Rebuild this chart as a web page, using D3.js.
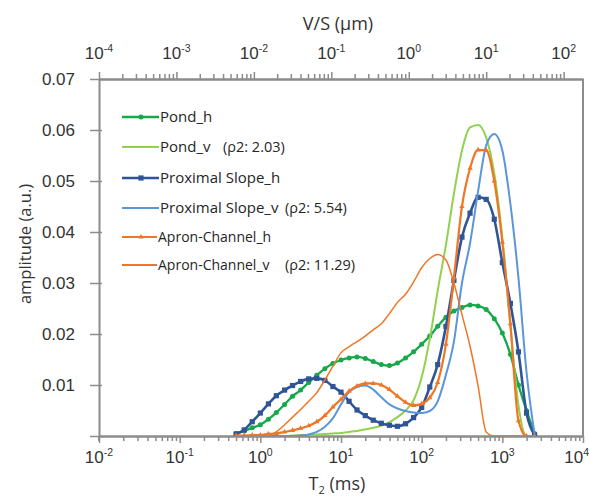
<!DOCTYPE html>
<html lang="en">
<head>
<meta charset="UTF-8">
<title>T2 distributions</title>
<script src="https://cdn.jsdelivr.net/npm/d3@7"></script>
<style>
  body { margin: 0; background: #fff; }
  svg { display: block; }
  .num { font-family: "Liberation Sans", Arial, sans-serif; fill: #333; }
  .ttl { font-family: "Open Sans", sans-serif; fill: #333; }
  .leg { font-family: "Open Sans", sans-serif; fill: #262626; }
</style>
</head>
<body>
<div id="chart"></div>
<script>
// T2 grid (ms), 10 points per decade
const T2_MS = [0.501, 0.631, 0.794, 1, 1.26, 1.58, 2, 2.51, 3.16, 3.98,
  5.01, 6.31, 7.94, 10, 12.6, 15.8, 20, 25.1, 31.6, 39.8,
  50.1, 63.1, 79.4, 100, 126, 158, 200, 251, 316, 398,
  501, 631, 794, 1000, 1259, 1585, 1995, 2512];

const POND_H = [0.0005, 0.0010, 0.0016, 0.0022, 0.0033, 0.0046, 0.0062, 0.0078, 0.0090, 0.0105,
  0.0119, 0.0132, 0.0142, 0.0149, 0.0153, 0.0155, 0.0152, 0.0146, 0.0140, 0.0138,
  0.0143, 0.0153, 0.0165, 0.0180, 0.0196, 0.0215, 0.0233, 0.0245, 0.0252, 0.0257,
  0.0255, 0.0248, 0.0230, 0.0202, 0.0160, 0.0100, 0.0050, 0.0005];

const POND_V = [0, 0, 0, 0, 0, 0, 0, 0.0001, 0.0002, 0.0002,
  0.0003, 0.0004, 0.0005, 0.0006, 0.0008, 0.0010, 0.0013, 0.0016, 0.0020, 0.0027,
  0.0037, 0.0050, 0.0070, 0.0115, 0.0190, 0.0285, 0.0375, 0.0475, 0.0560, 0.0605,
  0.0610, 0.0585, 0.0515, 0.0390, 0.0215, 0.0060, 0, 0];

const PROX_H = [0.0004, 0.0012, 0.0028, 0.0045, 0.0063, 0.0079, 0.0090, 0.0099, 0.0107, 0.0112,
  0.0113, 0.0109, 0.0097, 0.0086, 0.0068, 0.0051, 0.0040, 0.0031, 0.0025, 0.0021,
  0.0019, 0.0024, 0.0036, 0.0056, 0.0096, 0.0140, 0.0215, 0.0305, 0.0390, 0.0437,
  0.0468, 0.0464, 0.0425, 0.0340, 0.0260, 0.0165, 0.0045, 0.0002];

const PROX_V = [0, 0, 0, 0, 0, 0, 0, 0, 0.0001, 0.0003,
  0.0008, 0.0018, 0.0035, 0.0062, 0.0086, 0.0096, 0.0099, 0.0091, 0.0076, 0.0062,
  0.0054, 0.0049, 0.0046, 0.0045, 0.0049, 0.0068, 0.0120, 0.0185, 0.0300, 0.0378,
  0.0480, 0.0570, 0.0592, 0.0560, 0.0455, 0.0310, 0.0125, 0.0003];

const APRON_H = [0.0001, 0.0001, 0.0002, 0.0002, 0.0004, 0.0005, 0.0008, 0.0011, 0.0015, 0.0020,
  0.0028, 0.0040, 0.0057, 0.0072, 0.0088, 0.0098, 0.0103, 0.0103, 0.0100, 0.0091,
  0.0078, 0.0066, 0.0060, 0.0063, 0.0075, 0.0105, 0.0180, 0.0310, 0.0450, 0.0525,
  0.0561, 0.0560, 0.0500, 0.0380, 0.0220, 0.0030, 0, 0];

const APRON_V = [0, 0, 0, 0, 0.0001, 0.0008, 0.0022, 0.0037, 0.0052, 0.0068,
  0.0085, 0.0110, 0.0137, 0.0163, 0.0175, 0.0185, 0.0196, 0.0208, 0.0220, 0.0240,
  0.0262, 0.0278, 0.0302, 0.0330, 0.0348, 0.0356, 0.0345, 0.0300, 0.0238, 0.0176,
  0.0098, 0.0008, 0, 0, 0, 0, 0, 0];

const SERIES_NAMES = ["Pond_h", "Pond_v", "Proximal Slope_h", "Proximal Slope_v", "Apron-Channel_h", "Apron-Channel_v"];
const RHO2 = [null, "2.03", null, "5.54", null, "11.29"];

const Y_TICKS = [0, 0.01, 0.02, 0.03, 0.04, 0.05, 0.06, 0.07];
const X_DECADES = [0.01, 0.1, 1, 10, 100, 1000, 10000];
const X_EXP = ["-2", "-1", "0", "1", "2", "3", "4"];
const VS_DECADES = [1e-4, 1e-3, 1e-2, 1e-1, 1, 10, 100];
const VS_EXP = ["-4", "-3", "-2", "-1", "0", "1", "2"];

const width = 590, height = 496;
const pLeft = 99, pRight = 583, pTop = 79, pBottom = 436;
const axisColor = "#8c8c8c";

const svg = d3.select("#chart").append("svg")
  .attr("width", width).attr("height", height);

const x = d3.scaleLog().domain([0.01, 10000]).range([pLeft, pRight]);
const xTop = d3.scaleLog().domain([1e-4, Math.pow(10, 2.25)]).range([pLeft, pRight]);
const y = d3.scaleLinear().domain([0, 0.07]).range([pBottom, pTop]);

// series styles
const styles = [
  { color: "#17a84b", width: 2.3, marker: "circle" },
  { color: "#92d050", width: 2, marker: null },
  { color: "#2f5597", width: 2.6, marker: "square" },
  { color: "#5b96da", width: 2, marker: null },
  { color: "#ee7626", width: 2.2, marker: "triangle" },
  { color: "#ee7626", width: 1.5, marker: null }
];
const seriesValues = [POND_H, POND_V, PROX_H, PROX_V, APRON_H, APRON_V];

// clip
svg.append("clipPath").attr("id", "clip").append("rect")
  .attr("x", pLeft).attr("y", pTop - 2).attr("width", pRight - pLeft).attr("height", pBottom - pTop + 2);

// axes
function styleAxis(g) {
  g.select(".domain").attr("stroke", axisColor).attr("stroke-width", 2);
  g.selectAll(".tick line").attr("stroke", axisColor).attr("stroke-width", 1.5);
  g.selectAll("text").remove();
}

const isDecade = v => Math.abs(Math.log10(v) - Math.round(Math.log10(v))) < 1e-6;

const xTicks = x.ticks();
svg.append("g").attr("transform", `translate(0,${pBottom})`)
  .call(d3.axisBottom(x).tickValues(xTicks.filter(v => !isDecade(v))).tickSize(5).tickSizeOuter(0))
  .call(styleAxis);
svg.append("g").attr("transform", `translate(0,${pBottom})`)
  .call(d3.axisBottom(x).tickValues(xTicks.filter(isDecade)).tickSize(7).tickSizeOuter(0))
  .call(styleAxis);

const vsTicks = xTop.ticks();
svg.append("g").attr("transform", `translate(0,${pTop})`)
  .call(d3.axisTop(xTop).tickValues(vsTicks.filter(v => !isDecade(v))).tickSize(5).tickSizeOuter(0))
  .call(styleAxis);
svg.append("g").attr("transform", `translate(0,${pTop})`)
  .call(d3.axisTop(xTop).tickValues(vsTicks.filter(isDecade)).tickSize(7).tickSizeOuter(0))
  .call(styleAxis);

const yAxis = svg.append("g").attr("transform", `translate(${pLeft},0)`)
  .call(d3.axisLeft(y).tickValues(Y_TICKS).tickSize(9).tickSizeOuter(0).tickPadding(15)
    .tickFormat(d => d === 0 ? "" : d3.format(".2f")(d)));
yAxis.select(".domain").attr("stroke", axisColor).attr("stroke-width", 2);
yAxis.selectAll(".tick line").attr("stroke", axisColor).attr("stroke-width", 1.5).attr("x2", -9).attr("x1", 3);
yAxis.selectAll("text").attr("font-size", 17).attr("fill", "#333")
  .attr("font-family", "Liberation Sans, Arial, sans-serif");
// small extension of y axis below the x axis
svg.append("line").attr("x1", pLeft).attr("x2", pLeft).attr("y1", pBottom).attr("y2", pBottom + 5)
  .attr("stroke", axisColor).attr("stroke-width", 2);

// right border
svg.append("line").attr("x1", pRight).attr("x2", pRight).attr("y1", pTop).attr("y2", pBottom)
  .attr("stroke", axisColor).attr("stroke-width", 2);

// decade labels
function powerLabels(scale, values, exps, yPos) {
  values.forEach((v, i) => {
    const last = scale(v) > width - 14;
    const t = svg.append("text").attr("class", "num")
      .attr("x", last ? width - 1 : scale(v)).attr("y", yPos)
      .attr("text-anchor", last ? "end" : "middle").attr("font-size", 17);
    t.append("tspan").text("10");
    t.append("tspan").attr("font-size", 10.5).attr("dy", -7).text(exps[i]);
  });
}
powerLabels(x, X_DECADES, X_EXP, 463);
powerLabels(xTop, VS_DECADES, VS_EXP, 59);

// titles
svg.append("text").attr("class", "ttl").attr("x", 338).attr("y", 30)
  .attr("text-anchor", "middle").attr("font-size", 18).text("V/S (\u03bcm)");
const tt = svg.append("text").attr("class", "ttl").attr("x", 337).attr("y", 490)
  .attr("text-anchor", "middle").attr("font-size", 18);
tt.append("tspan").text("T");
tt.append("tspan").attr("font-size", 11).attr("dy", 4).text("2");
tt.append("tspan").attr("dy", -4).text(" (ms)");
svg.append("text").attr("class", "ttl")
  .attr("transform", "translate(31,244) rotate(-90)")
  .attr("text-anchor", "middle").attr("font-size", 16.5).text("amplitude (a.u.)");

// curves
const plot = svg.append("g").attr("clip-path", "url(#clip)");
const line = d3.line()
  .x(d => x(d[0]))
  .y(d => y(d[1]))
  .curve(d3.curveMonotoneX);

function drawMarker(g, type, cx, cy, color) {
  if (type === "circle") {
    g.append("circle").attr("cx", cx).attr("cy", cy).attr("r", 2.5).attr("fill", color);
  } else if (type === "square") {
    g.append("rect").attr("x", cx - 2.6).attr("y", cy - 2.6).attr("width", 5.2).attr("height", 5.2).attr("fill", color);
  } else if (type === "triangle") {
    g.append("path").attr("transform", `translate(${cx},${cy})`)
      .attr("d", d3.symbol(d3.symbolTriangle, 12)()).attr("fill", color);
  }
}

seriesValues.forEach((vals, si) => {
  const st = styles[si];
  const pts = T2_MS.map((t, i) => [t, vals[i]]);
  plot.append("path").datum(pts)
    .attr("fill", "none").attr("stroke", st.color).attr("stroke-width", st.width)
    .attr("stroke-linejoin", "round").attr("d", line);
  if (st.marker) {
    const mg = plot.append("g");
    pts.forEach(p => drawMarker(mg, st.marker, x(p[0]), y(p[1]), st.color));
  }
});

// legend
const legendY = [117, 147, 178, 208, 237, 265];
const legendSize = [15, 15, 15, 15, 14, 14];
const textX = [160, 160, 160, 160, 158, 158];
const rhoX = [null, 223, null, 285, null, 285];
SERIES_NAMES.forEach((name, i) => {
  const st = styles[i];
  const g = svg.append("g");
  g.append("line").attr("x1", 122).attr("x2", textX[i] - 1).attr("y1", legendY[i]).attr("y2", legendY[i])
    .attr("stroke", st.color).attr("stroke-width", Math.max(st.width, 2));
  if (st.marker) drawMarker(g, st.marker, 141, legendY[i], st.color);
  g.append("text").attr("class", "leg").attr("font-size", legendSize[i])
    .attr("x", textX[i]).attr("y", legendY[i]).attr("dy", "0.35em").text(name);
  if (RHO2[i]) {
    g.append("text").attr("class", "leg").attr("font-size", 14.5).attr("x", rhoX[i]).attr("y", legendY[i])
      .attr("dy", "0.35em").text(`(\u03c12: ${RHO2[i]})`);
  }
});
</script>
</body>
</html>
